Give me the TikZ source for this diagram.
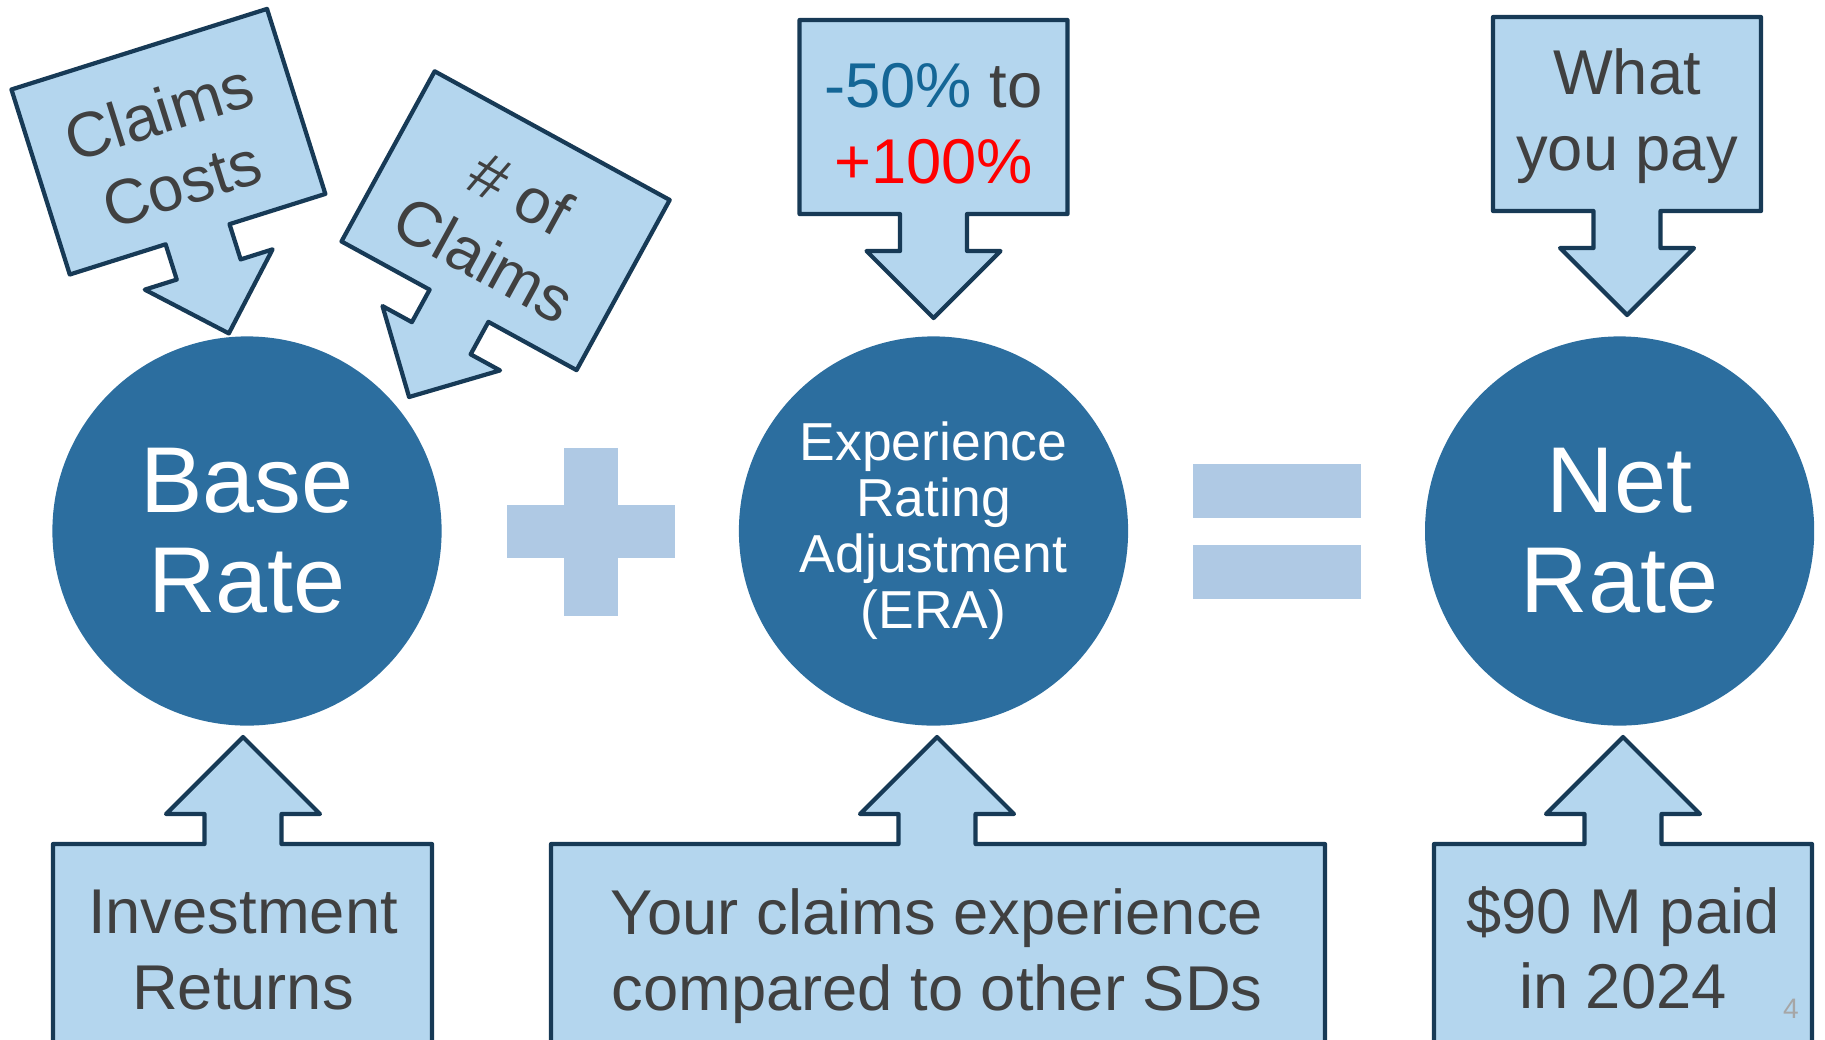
\documentclass[tikz,border=0pt]{standalone}
\usepackage{fontspec}
\setmainfont{Liberation Sans}
\usepackage{tikz}

\definecolor{ratefill}{RGB}{44,110,159}
\definecolor{boxfill}{RGB}{180,214,238}
\definecolor{boxline}{RGB}{23,58,86}
\definecolor{signfill}{RGB}{175,201,228}
\definecolor{txtgray}{RGB}{64,64,64}
\definecolor{lowblue}{RGB}{20,102,150}
\definecolor{pagegray}{RGB}{166,166,166}

\begin{document}
\begin{tikzpicture}[x=0.01cm, y=-0.01cm,
		rate/.style={circle, fill=ratefill, minimum size=3.89cm, inner sep=0pt, text=white, align=center},
		callout/.style={draw=boxline, fill=boxfill, line width=1.2pt, line join=round},
		calltext/.style={text=txtgray, align=center, font=\fontsize{18}{21.5}\selectfont},
		sign/.style={fill=signfill}]
			\useasboundingbox (0,0) rectangle (1825,1039);
			\clip (0,0) rectangle (1825,1039);

			\node[rate, font=\fontsize{26.6}{28.5}\selectfont] (base) at (247,531) {Base\\Rate};
			\node[rate, font=\fontsize{15.2}{15.9}\selectfont] (era) at (933.5,531) {Experience\\Rating\\Adjustment\\(ERA)};
			\node[rate, font=\fontsize{26.6}{28.5}\selectfont] (net) at (1619.6,531) {Net\\Rate};

			% plus and equals
			\fill[sign] (564,448) rectangle (618,616);
			\fill[sign] (507,505) rectangle (675,558);
			\fill[sign] (1193,464) rectangle (1361,518);
			\fill[sign] (1193,545) rectangle (1361,599);

			% callouts above, arrow down
			\foreach \cx/\cy/\ang/\dy/\nm/\txt in {168.4/141.7/17.5/6/costs/{Claims\\Costs}, 505.6/220.7/-28.7/6/count/{\# of\\Claims}, 933.5/117/0/7/range/{{\color{lowblue}-50\%} to\\{\color{red}+100\%}}, 1627/114/0/2/pay/{What\\you pay}}
				\draw[callout, shift={(\cx,\cy)}, rotate=\ang] (-134,-97) -- (134,-97) -- (134,97) -- (33.5,97) -- (33.5,134) -- (67,134) -- (0,201) -- (-67,134) -- (-33.5,134) -- (-33.5,97) -- (-134,97) -- cycle
					node[calltext, transform shape] (\nm) at (0,\dy) {\txt};

			% callouts below, arrow up
			\foreach \cx/\xl/\xr/\ty/\nm/\txt in {243/53/432/950/invest/{Investment\\Returns}, 937/551/1325/956/compare/{Your claims experience\\compared to other SDs}, 1623/1434/1812/948/paid/{\$90 M paid\\in 2024}}
				{\draw[callout] (\xl,1060) -- (\xl,844) -- (\cx-38.5,844) -- (\cx-38.5,814) -- (\cx-77,814) -- (\cx,737) -- (\cx+77,814) -- (\cx+38.5,814) -- (\cx+38.5,844) -- (\xr,844) -- (\xr,1060) -- cycle;
				\node[calltext] (\nm) at (\cx,\ty) {\txt};}

			\node[text=pagegray, font=\fontsize{8}{9.6}\selectfont, anchor=base] (page) at (1791,1018) {4};
		\end{tikzpicture}
\end{document}
